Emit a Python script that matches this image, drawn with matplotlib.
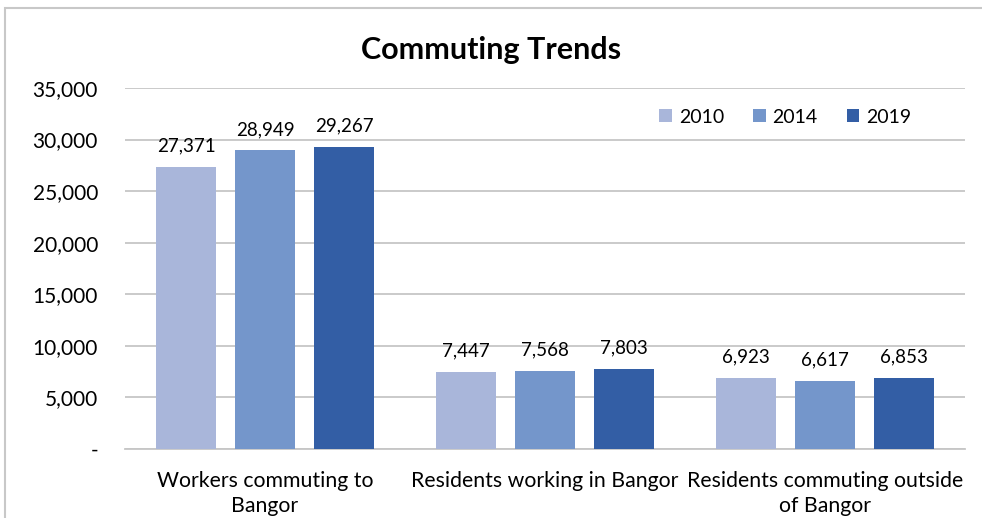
import matplotlib
matplotlib.use("Agg")
import matplotlib.pyplot as plt
import numpy as np
from matplotlib.patches import Rectangle
from matplotlib.ticker import FuncFormatter

# chart data
categories = ["Workers commuting to\nBangor", "Residents working in Bangor",
              "Residents commuting outside\nof Bangor"]
years = ["2010", "2014", "2019"]
values_2010 = [27371, 7447, 6923]
values_2014 = [28949, 7568, 6617]
values_2019 = [29267, 7803, 6853]
colors = ["#A9B6DA", "#7496CB", "#335EA5"]

plt.rcParams['font.family'] = ['Lato', 'DejaVu Sans']

fig = plt.figure(figsize=(9.82, 5.18), dpi=100)
ax = fig.add_axes([0.1273, 0.1332, 0.8554, 0.6969])

x = np.arange(len(categories))
width = 0.215
gap = 0.282
series = [values_2010, values_2014, values_2019]
for i, (vals, year) in enumerate(zip(series, years)):
    bars = ax.bar(x + (i - 1) * gap, vals, width, color=colors[i], label=year, zorder=3)
    for b, v in zip(bars, vals):
        ax.annotate(f"{v:,}", (b.get_x() + b.get_width() / 2, v), xytext=(0, 9),
                    textcoords="offset points", ha="center", va="bottom", fontsize=13.5)

ax.set_xlim(-0.5, 2.5)
ax.set_ylim(0, 35000)
ax.set_yticks(np.arange(0, 35001, 5000))
ax.yaxis.set_major_formatter(FuncFormatter(lambda v, p: "-" if v == 0 else f"{int(v):,}"))
ax.set_xticks(x)
ax.set_xticklabels(categories, fontsize=15.3, linespacing=1.32)
ax.tick_params(axis="y", labelsize=15, length=0, pad=19.5)
ax.tick_params(axis="x", length=0, pad=15.5)
ax.grid(axis="y", color="#C6C6C6", linewidth=1.3, zorder=0)
for s in ["top", "right", "left"]:
    ax.spines[s].set_visible(False)
ax.spines["bottom"].set_color("#C6C6C6")
ax.spines["bottom"].set_linewidth(1.3)

ax.legend(loc="upper right", bbox_to_anchor=(0.957, 0.991), ncol=3, frameon=False,
          fontsize=14, handlelength=0.65, handleheight=0.65, columnspacing=1.5,
          handletextpad=0.35)

fig.text(0.5, 0.903, "Commuting Trends", ha="center", va="center",
         fontsize=22, fontweight="bold")

# outer chart border (cropped at bottom and right)
fig.patches.append(Rectangle((5 / 982, -0.1), 1.2, 1.1 - 8 / 518, transform=fig.transFigure,
                             fill=False, edgecolor="#C8C8C8", linewidth=1.5))

plt.savefig("out.png", dpi=100)
